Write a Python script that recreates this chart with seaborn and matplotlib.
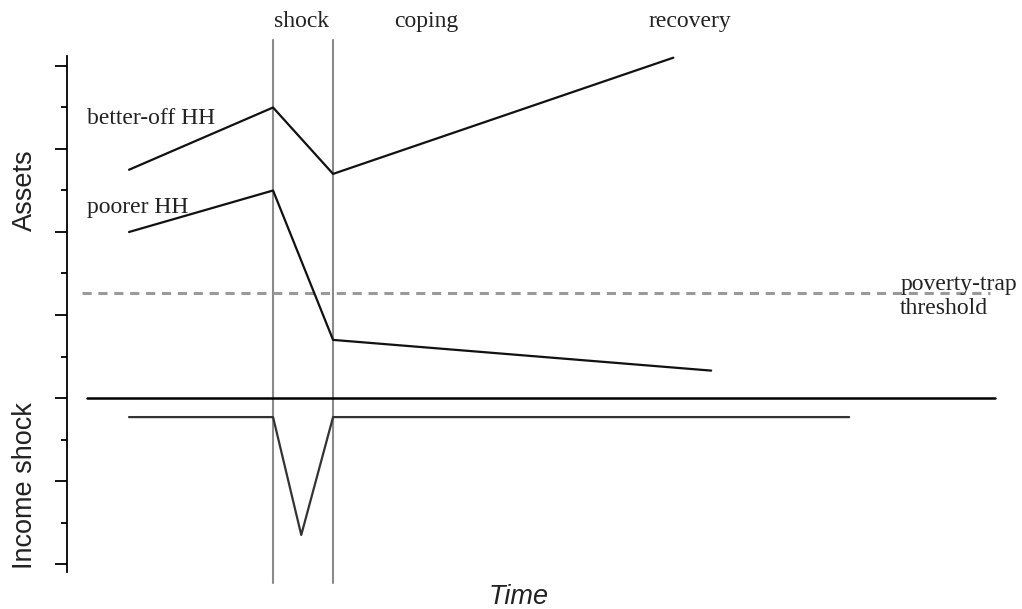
import numpy as np
import pandas as pd
import matplotlib
matplotlib.use("Agg")
import matplotlib.pyplot as plt
import seaborn as sns

# time points (shock starts at 2.5, coping starts at 3.5)
better_t = [0.1, 2.5, 3.5, 9.17]
better_assets = [2.75, 3.5, 2.7, 4.1]

poorer_t = [0.1, 2.5, 3.5, 9.8]
poorer_assets = [2.0, 2.5, 0.7, 0.33]

income_t = [0.1, 2.5, 2.97, 3.5, 12.1]
income_level = [-0.23, -0.23, -1.65, -0.23, -0.23]

shock_start, shock_end = 2.5, 3.5
threshold = 1.27

phase_labels = ["shock", "coping", "recovery"]
phase_t = [2.98, 5.05, 9.45]

sns.set_theme(style="white")
plt.rcParams["font.family"] = ["Liberation Serif", "DejaVu Serif"]

fig = plt.figure(figsize=(10.22, 6.09), dpi=100)
ax = fig.add_axes([0, 0, 1, 1])
ax.set_xlim(-2.05, 14.98)
ax.set_ylim(-2.542, 4.795)

# vertical shock window lines
for t in (shock_start, shock_end):
    ax.plot([t, t], [-2.23, 4.31], color="#8a8a8a", lw=1.5, zorder=1)

# zero line separating assets and income
ax.plot([-0.6, 14.53], [0, 0], color="black", lw=1.8, zorder=2)

# poverty-trap threshold
ax.plot([-0.68, 14.45], [threshold, threshold], color="#9a9a9a", lw=2.2,
        ls=(0, (3, 2.2)), zorder=2)

df_better = pd.DataFrame({"t": better_t, "v": better_assets})
df_poorer = pd.DataFrame({"t": poorer_t, "v": poorer_assets})
df_income = pd.DataFrame({"t": income_t, "v": income_level})

sns.lineplot(data=df_better, x="t", y="v", sort=False, estimator=None,
             color="#111111", lw=1.6, ax=ax, zorder=3)
sns.lineplot(data=df_poorer, x="t", y="v", sort=False, estimator=None,
             color="#111111", lw=1.6, ax=ax, zorder=3)
sns.lineplot(data=df_income, x="t", y="v", sort=False, estimator=None,
             color="#333333", lw=1.6, ax=ax, zorder=3)

# left axis with alternating long / short ticks
for s in ["top", "right", "bottom"]:
    ax.spines[s].set_visible(False)
ax.spines["left"].set_position(("data", -0.93))
ax.spines["left"].set_bounds(-2.1, 4.12)
ax.spines["left"].set_color("black")
ax.spines["left"].set_linewidth(1.3)
ax.set_yticks(np.arange(-2, 4.01, 1.0))
ax.set_yticks(np.arange(-1.5, 4.0, 1.0), minor=True)
ax.tick_params(axis="y", which="major", left=True, length=9, width=1.3,
               color="black", labelleft=False)
ax.tick_params(axis="y", which="minor", left=True, length=4.5, width=1.3,
               color="black")
ax.set_xticks([])
ax.set_xlabel("")
ax.set_ylabel("")

# text
for lab, t in zip(phase_labels, phase_t):
    ax.text(t, 4.53, lab, ha="center", va="center", fontsize=17, color="#222222")
ax.text(-0.6, 3.37, "better-off HH", ha="left", va="center", fontsize=17,
        color="#222222")
ax.text(-0.6, 2.29, "poorer HH", ha="left", va="center", fontsize=17,
        color="#222222")
ax.text(12.95, 1.22, "poverty-trap\nthreshold", ha="left", va="center",
        fontsize=17, color="#222222", linespacing=1.2)

sans = ["Liberation Sans", "DejaVu Sans"]
ax.text(-1.63, 2.5, "Assets", rotation=90, ha="center", va="center",
        fontsize=19.5, family=sans, color="#222222")
ax.text(-1.63, -1.05, "Income shock", rotation=90, ha="center", va="center",
        fontsize=19.5, family=sans, color="#222222")
ax.text(6.6, -2.4, "Time", ha="center", va="center", fontsize=19.5,
        family=sans, style="italic", color="#222222")

fig.savefig("out.png", dpi=100)
